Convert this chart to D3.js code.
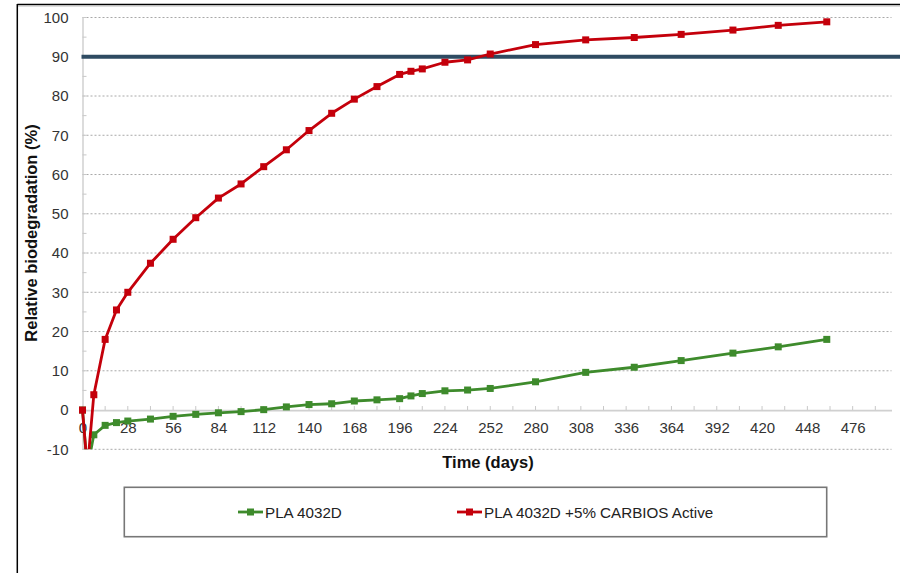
<!DOCTYPE html>
<html><head><meta charset="utf-8">
<script src="https://cdn.jsdelivr.net/npm/d3@7"></script>
<style>
html,body{margin:0;padding:0;background:#fff;}
svg{display:block;font-family:"Liberation Sans",Arial,sans-serif;}
</style></head>
<body>
<svg id="chart" width="900" height="573"></svg>
<script>
const days = [0, 3, 7, 14, 21, 28, 42, 56, 70, 84, 98, 112, 126, 140, 154, 168, 182, 196, 203, 210, 224, 238, 252, 280, 311, 341, 370, 402, 430, 460];
const plaValues = [0, -15, -6.3, -3.9, -3.2, -2.8, -2.3, -1.6, -1.1, -0.7, -0.4, 0.1, 0.8, 1.4, 1.6, 2.3, 2.6, 2.9, 3.6, 4.2, 4.9, 5.1, 5.5, 7.2, 9.6, 10.9, 12.6, 14.5, 16.1, 18.0];
const carbiosValues = [0, -15, 3.9, 18.0, 25.5, 30.0, 37.4, 43.5, 49.0, 54.0, 57.6, 62.0, 66.3, 71.2, 75.6, 79.2, 82.4, 85.5, 86.3, 86.9, 88.6, 89.2, 90.7, 93.1, 94.3, 94.9, 95.7, 96.8, 98.0, 98.9];
const seriesNames = ["PLA 4032D", "PLA 4032D +5% CARBIOS Active"];
const xTickLabels = [0, 28, 56, 84, 112, 140, 168, 196, 224, 252, 280, 308, 336, 364, 392, 420, 448, 476];
const yTickLabels = [-10, 0, 10, 20, 30, 40, 50, 60, 70, 80, 90, 100];
const thresholdValue = 90;
const xTitle = "Time (days)";
const yTitle = "Relative biodegradation (%)";

const svg = d3.select("#chart");
const x = d3.scaleLinear().domain([0, 500]).range([82.5, 891.5]);
const y = d3.scaleLinear().domain([-10, 100]).range([449.3, 17.5]);

// outer frame
svg.append("line").attr("x1",17.3).attr("x2",900).attr("y1",4.5).attr("y2",4.5).attr("stroke","#000").attr("stroke-width",1.5);
svg.append("line").attr("x1",17.3).attr("x2",900).attr("y1",6.5).attr("y2",6.5).attr("stroke","#ddd").attr("stroke-width",1);
svg.append("line").attr("x1",17.3).attr("x2",17.3).attr("y1",4).attr("y2",573).attr("stroke","#000").attr("stroke-width",1.5);

// gridlines
const gridVals = yTickLabels.filter(v => v !== 0);
svg.append("g").selectAll("line").data(gridVals).join("line")
  .attr("x1", x(0)).attr("x2", x(500))
  .attr("y1", d => y(d)).attr("y2", d => y(d))
  .attr("stroke", "#a8a8a8").attr("stroke-width", 1).attr("stroke-dasharray", "2,2");

// y axis
const yAxis = d3.axisLeft(y).tickValues(yTickLabels).tickFormat(d => String(d)).tickSize(0).tickPadding(14);
const yg = svg.append("g").attr("transform", `translate(${x(0)},0)`).call(yAxis);
yg.select(".domain").attr("stroke", "#d0d0d0").attr("stroke-width", 1.5);
yg.selectAll("text").attr("font-size", 15).attr("fill", "#333").attr("font-family", "Liberation Sans, Arial, sans-serif");
// y minor ticks (inside)
svg.append("g").selectAll("line").data(d3.range(-10, 101, 5)).join("line")
  .attr("x1", x(0)).attr("x2", x(0) + 4)
  .attr("y1", d => y(d)).attr("y2", d => y(d))
  .attr("stroke", "#c8c8c8").attr("stroke-width", 1);

// x axis at y=0
const xAxis = d3.axisBottom(x).tickValues(xTickLabels).tickFormat(d => String(d)).tickSize(0).tickPadding(12);
const xg = svg.append("g").attr("transform", `translate(0,${y(0)})`).call(xAxis);
xg.select(".domain").attr("stroke", "#d0d0d0").attr("stroke-width", 1.8);
xg.selectAll("text").attr("font-size", 15).attr("fill", "#333").attr("font-family", "Liberation Sans, Arial, sans-serif");
svg.append("g").selectAll("line").data(d3.range(0, 500, 14)).join("line")
  .attr("x1", d => x(d)).attr("x2", d => x(d))
  .attr("y1", y(0)).attr("y2", y(0) - 4)
  .attr("stroke", "#c8c8c8").attr("stroke-width", 1);

// threshold line
svg.append("line").attr("x1", x(0) - 1).attr("x2", 900)
  .attr("y1", y(thresholdValue)).attr("y2", y(thresholdValue))
  .attr("stroke", "#2e4b62").attr("stroke-width", 4);

// clip
svg.append("clipPath").attr("id", "clip").append("rect")
  .attr("x", 0).attr("y", 0).attr("width", 900).attr("height", y(-10));

const series = [
  {name: seriesNames[0], values: plaValues, color: "#3e8b2c"},
  {name: seriesNames[1], values: carbiosValues, color: "#c4000b"}
];
const line = d3.line().x((d, i) => x(days[i])).y(d => y(d));
const plotG = svg.append("g").attr("clip-path", "url(#clip)");
series.forEach(s => {
  const g = plotG.append("g");
  g.append("path").attr("d", line(s.values)).attr("fill", "none")
    .attr("stroke", s.color).attr("stroke-width", 2.8).attr("stroke-linejoin", "round");
  g.selectAll("rect").data(s.values).join("rect")
    .attr("x", (d, i) => x(days[i]) - 3.5).attr("y", d => y(d) - 3.5)
    .attr("width", 7).attr("height", 7).attr("fill", s.color);
});

// axis titles
svg.append("text").attr("x", 488).attr("y", 468).attr("text-anchor", "middle")
  .attr("font-size", 16.5).attr("font-weight", "bold").attr("fill", "#111").text(xTitle);
svg.append("text").attr("transform", "translate(37,233) rotate(-90)").attr("text-anchor", "middle")
  .attr("font-size", 16.5).attr("font-weight", "bold").attr("fill", "#111").text(yTitle);

// legend
svg.append("rect").attr("x", 124.3).attr("y", 487.3).attr("width", 702.4).attr("height", 49.4)
  .attr("fill", "#fff").attr("stroke", "#777").attr("stroke-width", 1.6);
const legendX = [238, 457];
series.forEach((s, i) => {
  const lx = legendX[i];
  svg.append("line").attr("x1", lx).attr("x2", lx + 25).attr("y1", 512).attr("y2", 512)
    .attr("stroke", s.color).attr("stroke-width", 2.8);
  svg.append("rect").attr("x", lx + 12.5 - 3.5).attr("y", 512 - 3.5).attr("width", 7).attr("height", 7).attr("fill", s.color);
  svg.append("text").attr("x", lx + 27).attr("y", 517.5).attr("font-size", 15.2).attr("fill", "#222").text(s.name);
});
</script>
</body></html>
